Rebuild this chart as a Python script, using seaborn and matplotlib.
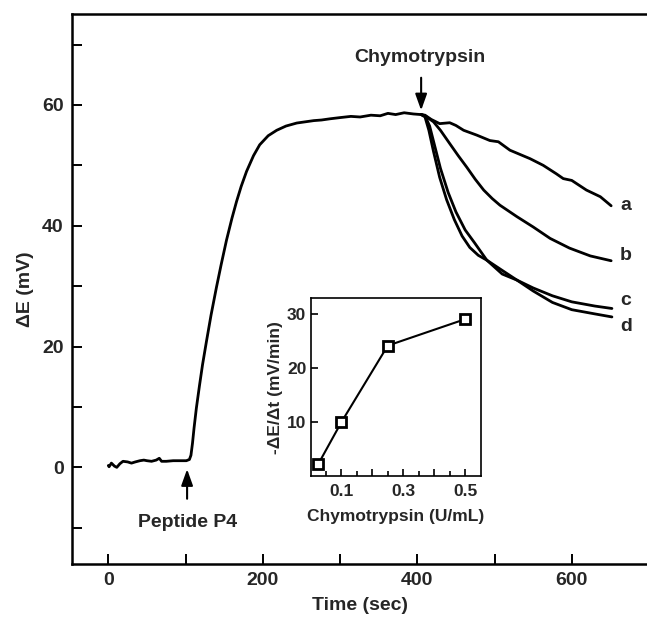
import matplotlib
matplotlib.use("Agg")
import numpy as np
import pandas as pd
import matplotlib.pyplot as plt
import seaborn as sns
from matplotlib.ticker import FixedLocator, FuncFormatter

# ---- main trace (common part, peptide P4 addition then plateau) ----
time_common = [0, 1, 4, 8, 11, 15, 19, 25, 30, 35, 41, 46, 50, 56, 62, 66, 69, 75, 84, 92,
               101, 105, 107, 109, 111, 114, 118, 122, 127, 133, 140, 146, 153, 160, 166,
               172, 179, 188, 196, 207, 218, 230, 244, 255, 266, 276, 287, 300, 314, 326,
               340, 352, 362, 372, 383, 395, 405]
dE_common = [0.3, 0.1, 0.7, 0.2, 0.0, 0.6, 1.0, 0.9, 0.7, 0.9, 1.1, 1.2, 1.1, 1.0, 1.2, 1.5,
             1.0, 1.0, 1.1, 1.1, 1.1, 1.3, 2.0, 4.0, 6.5, 9.8, 13.5, 17.0, 20.8, 25.2,
             29.8, 33.5, 37.6, 41.2, 44.0, 46.5, 49.0, 51.6, 53.4, 54.9, 55.8, 56.5, 57.0,
             57.2, 57.4, 57.5, 57.7, 57.9, 58.1, 58.0, 58.3, 58.2, 58.6, 58.4, 58.7, 58.5,
             58.4]

# ---- branches after chymotrypsin addition ----
time_a = [405, 410, 418, 429, 442, 450, 460, 477, 494, 505, 520, 546, 563, 580, 589, 600,
          619, 637, 651]
dE_a = [58.4, 58.3, 57.6, 56.9, 57.05, 56.6, 55.8, 55.0, 54.1, 53.9, 52.5, 51.1, 50.0,
        48.6, 47.8, 47.5, 45.9, 44.8, 43.3]
time_b = [405, 410, 421, 430, 442, 453, 464, 475, 486, 497, 507, 529, 550, 572, 597, 624,
          651]
dE_b = [58.4, 58.2, 57.2, 55.8, 53.6, 51.6, 49.7, 47.7, 45.9, 44.5, 43.4, 41.5, 39.8,
        37.9, 36.3, 35.0, 34.2]
time_c = [405, 410, 416, 422, 430, 440, 450, 462, 474, 490, 510, 529, 550, 575, 600, 630,
          652]
dE_c = [58.4, 58.2, 56.5, 53.5, 49.5, 45.5, 42.3, 39.3, 37.2, 34.3, 32.0, 31.0, 29.7,
        28.4, 27.4, 26.7, 26.3]
time_d = [405, 410, 415, 421, 429, 438, 448, 458, 468, 479, 490, 510, 529, 550, 575, 600,
          630, 652]
dE_d = [58.4, 58.0, 55.8, 52.3, 48.0, 44.3, 41.0, 38.3, 36.4, 35.1, 34.3, 32.6, 31.0,
        29.2, 27.3, 26.1, 25.4, 24.9]

curve_names = ["a", "b", "c", "d"]
curve_label_y = [43.4, 35.1, 27.7, 23.3]

# ---- inset data ----
inset_conc = [0.025, 0.1, 0.25, 0.5]
inset_rate = [2.2, 10.0, 24.2, 29.1]

sns.set_theme(style="ticks")
plt.rcParams["font.family"] = ["Liberation Sans", "DejaVu Sans"]
plt.rcParams["font.weight"] = "bold"
plt.rcParams["axes.labelweight"] = "bold"

fig = plt.figure(figsize=(6.47, 6.17), dpi=100)
ax = fig.add_axes([72 / 647, 53 / 617, 577 / 647, 549.7 / 617])

lw_main = 2.0
sns.lineplot(x=time_common, y=dE_common, ax=ax, color="black", lw=lw_main,
             sort=False, estimator=None)
for tt, ee in [(time_a, dE_a), (time_b, dE_b), (time_c, dE_c), (time_d, dE_d)]:
    sns.lineplot(x=tt, y=ee, ax=ax, color="black", lw=lw_main, sort=False, estimator=None)

for name, yv in zip(curve_names, curve_label_y):
    ax.text(670, yv, name, fontsize=14, fontweight="bold", ha="center", va="center")

ax.set_xlim(-47, 700)
ax.set_ylim(-16, 75)

ax.xaxis.set_major_locator(FixedLocator([0, 200, 400, 600]))
ax.xaxis.set_minor_locator(FixedLocator([100, 300, 500]))
ax.yaxis.set_major_locator(FixedLocator([0, 20, 40, 60]))
ax.yaxis.set_minor_locator(FixedLocator([-10, 10, 30, 50, 70]))
ax.tick_params(axis="both", which="both", direction="in", length=7, width=1.4,
               color="black")
ax.tick_params(axis="both", which="major", labelsize=14, pad=6)
for lab in ax.get_xticklabels() + ax.get_yticklabels():
    lab.set_fontweight("bold")
for s in ax.spines.values():
    s.set_linewidth(1.8)
    s.set_color("black")

ax.set_xlabel("Time (sec)", fontsize=14, fontweight="bold")
ax.set_ylabel("ΔE (mV)", fontsize=14, fontweight="bold")
ax.xaxis.set_label_coords(0.5, -0.06)
ax.yaxis.set_label_coords(-0.065, 0.5)

arrow_kw = dict(arrowstyle="-|>,head_length=0.7,head_width=0.25", color="black",
                lw=1.5, mutation_scale=14, shrinkA=0, shrinkB=0)
ax.annotate("", xy=(405, 59.1), xytext=(405, 64.5), arrowprops=arrow_kw)
ax.text(404, 67.8, "Chymotrypsin", fontsize=14, fontweight="bold", ha="center",
        va="center")
ax.annotate("", xy=(102, -0.3), xytext=(102, -5.2), arrowprops=arrow_kw)
ax.text(102, -9.2, "Peptide P4", fontsize=14, fontweight="bold", ha="center",
        va="center")

# ---- inset ----
ax2 = fig.add_axes([310.5 / 647, 141 / 617, 170 / 647, 177.8 / 617])
sns.lineplot(x=inset_conc, y=inset_rate, ax=ax2, color="black", lw=1.5, marker="s",
             markersize=6.5, markerfacecolor="white", markeredgecolor="black",
             markeredgewidth=2.0, sort=False, estimator=None)
ax2.set_xlim(0, 0.55)
ax2.set_ylim(0, 33)
ax2.xaxis.set_major_locator(FixedLocator([0.1, 0.2, 0.3, 0.4, 0.5]))
ax2.xaxis.set_major_formatter(FuncFormatter(
    lambda v, p: ("%.1f" % v) if round(v * 10) % 2 == 1 else ""))
ax2.xaxis.set_minor_locator(FixedLocator([0.05, 0.15, 0.25, 0.35, 0.45]))
ax2.yaxis.set_major_locator(FixedLocator([10, 20, 30]))
ax2.tick_params(axis="both", which="major", direction="in", length=5, width=1.2,
                labelsize=12.5, color="black")
ax2.tick_params(axis="x", which="major", pad=6)
ax2.tick_params(axis="y", which="major", pad=3)
ax2.tick_params(axis="x", which="minor", direction="in", length=3.5, width=1.2,
                color="black")
for lab in ax2.get_xticklabels() + ax2.get_yticklabels():
    lab.set_fontweight("bold")
for s in ax2.spines.values():
    s.set_linewidth(1.2)
    s.set_color("black")
ax2.set_xlabel("Chymotrypsin (U/mL)", fontsize=12.5, fontweight="bold")
ax2.set_ylabel("-ΔE/Δt (mV/min)", fontsize=12.5, fontweight="bold")
ax2.xaxis.set_label_coords(0.5, -0.185)
ax2.yaxis.set_label_coords(-0.16, 0.5)

fig.savefig("out.png", dpi=100)
